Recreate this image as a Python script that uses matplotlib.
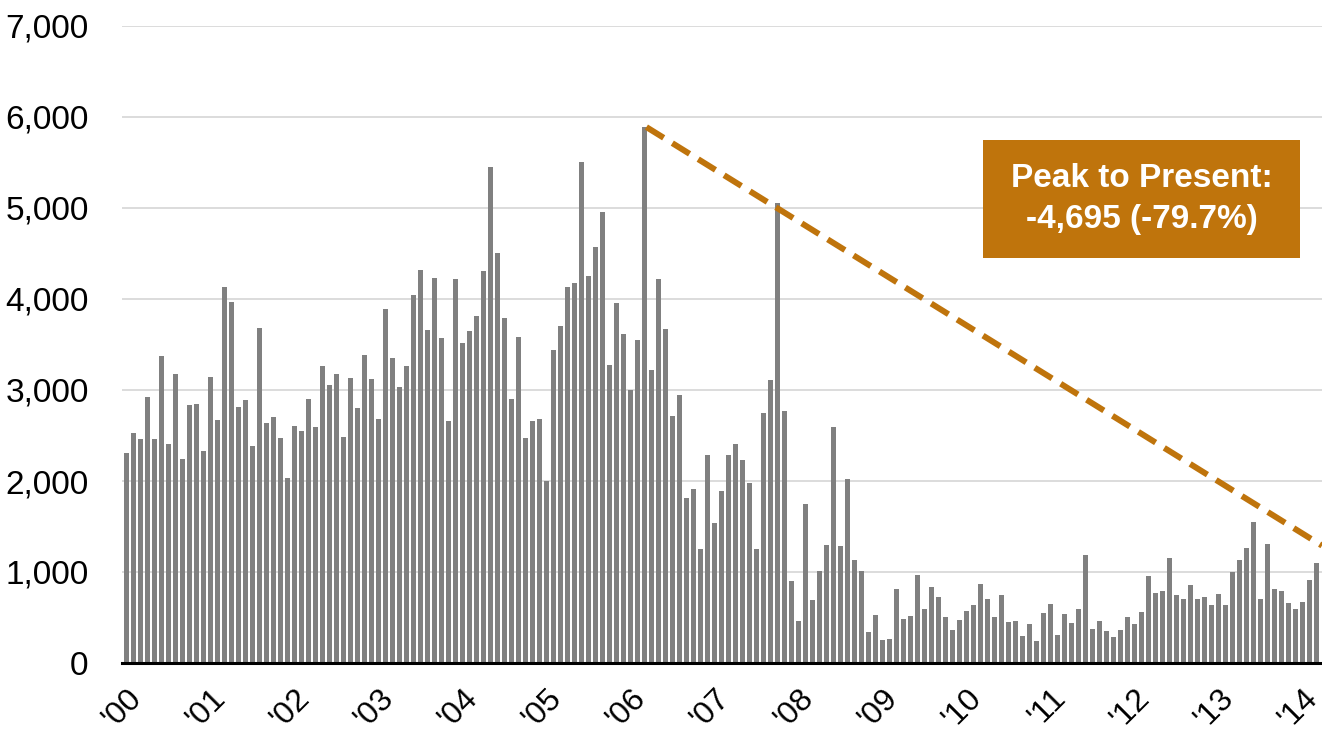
#!/usr/bin/env python3
# -*- coding: utf-8 -*-

import matplotlib
matplotlib.use("Agg")
import matplotlib.pyplot as plt
from matplotlib.patches import Rectangle
from matplotlib.transforms import ScaledTranslation

plt.rcParams["font.family"] = ["Liberation Sans Narrow", "Liberation Sans", "DejaVu Sans"]

# monthly values, Jan 2000 .. Mar 2014
values = [
    2313, 2529, 2457, 2928, 2461, 3376, 2409, 3180, 2237, 2837, 2849, 2329,
    3148, 2669, 4127, 3971, 2809, 2885, 2385, 3684, 2637, 2705, 2477, 2038,
    2605, 2545, 2900, 2597, 3268, 3052, 3172, 2481, 3136, 2801, 3380, 3116,
    2677, 3891, 3352, 3036, 3268, 4039, 4323, 3664, 4227, 3576, 2661, 4223,
    3512, 3648, 3815, 4307, 5453, 4507, 3795, 2900, 3580, 2473, 2661, 2677,
    1998, 3436, 3708, 4135, 4171, 5505, 4255, 4567, 4954, 3280, 3955, 3612,
    2996, 3544, 5889, 3220, 4223, 3672, 2713, 2940, 1810, 1914, 1258, 2281,
    1538, 1886, 2288, 2409, 2233, 1973, 1258, 2750, 3113, 5050, 2772, 902,
    462, 1749, 697, 1016, 1298, 2596, 1291, 2021, 1137, 1016, 341, 528,
    253, 260, 818, 480, 513, 964, 593, 832, 729, 509, 366, 476,
    571, 634, 864, 700, 502, 751, 454, 462, 300, 432, 238, 546,
    645, 311, 542, 436, 597, 1190, 370, 458, 348, 286, 359, 505,
    432, 557, 956, 766, 791, 1158, 751, 700, 853, 700, 729, 634,
    758, 634, 1004, 1128, 1267, 1553, 700, 1311, 817, 795, 656, 590,
    674, 916, 1099,
]
year_labels = ["'00", "'01", "'02", "'03", "'04", "'05", "'06", "'07",
               "'08", "'09", "'10", "'11", "'12", "'13", "'14"]
y_ticks = [0, 1000, 2000, 3000, 4000, 5000, 6000, 7000]

trend_start = 5889   # peak value
trend_end = 1290     # where the dashed line leaves the plot
callout = "Peak to Present:\n-4,695 (-79.7%)"

BAR_COLOR = "#808080"
ACCENT = "#BF740C"


def main() -> None:
    W, H = 1322, 736
    fig = plt.figure(figsize=(W / 100, H / 100), dpi=100)
    ax = fig.add_axes([122 / W, 73 / H, 1200 / W, 637 / H])

    x = list(range(len(values)))
    ax.bar(x, values, width=0.68, color=BAR_COLOR, zorder=2)

    ax.set_xlim(-0.614, 170.81)
    ax.set_ylim(0, 7000)

    # grid + axis styling
    ax.set_yticks(y_ticks)
    ax.set_yticklabels([f"{v:,}" for v in y_ticks], fontsize=24)
    ax.yaxis.grid(True, color="#D9D9D9", linewidth=1.3, zorder=0)
    ax.set_axisbelow(True)
    ax.tick_params(axis="y", length=0, pad=24)
    for side in ["left", "right", "top"]:
        ax.spines[side].set_visible(False)
    ax.spines["bottom"].set_linewidth(2.2)
    ax.spines["bottom"].set_color("black")
    ax.spines["bottom"].set_zorder(3)

    ax.set_xticks(x[::12])
    ax.set_xticklabels(year_labels, fontsize=23, rotation=45, ha="right",
                       va="center", rotation_mode="anchor")
    ax.tick_params(axis="x", length=0, pad=22)
    shift = ScaledTranslation(0.11, 0, fig.dpi_scale_trans)
    for lbl in ax.get_xticklabels():
        lbl.set_transform(lbl.get_transform() + shift)

    # dashed trend line from the peak to the right edge
    peak_i = values.index(max(values))
    ax.plot([peak_i + 0.3, 170.81], [trend_start, trend_end], color=ACCENT,
            linewidth=4.3, dashes=(3.4, 1.7), solid_capstyle="butt",
            dash_capstyle="butt", zorder=4, clip_on=False)

    # callout box
    bx0, by0, bx1, by1 = 983, 140, 1300, 258
    fig.patches.append(Rectangle((bx0 / W, 1 - by1 / H), (bx1 - bx0) / W, (by1 - by0) / H,
                                 transform=fig.transFigure, facecolor=ACCENT,
                                 edgecolor="none", zorder=5))
    fig.text((bx0 + bx1) / 2 / W, 1 - (by0 + by1) / 2 / H, callout, color="white",
             fontsize=24, fontweight="bold", ha="center", va="center",
             linespacing=1.4, zorder=6)

    fig.savefig("out.png", dpi=100)
    plt.close(fig)


if __name__ == "__main__":
    main()
